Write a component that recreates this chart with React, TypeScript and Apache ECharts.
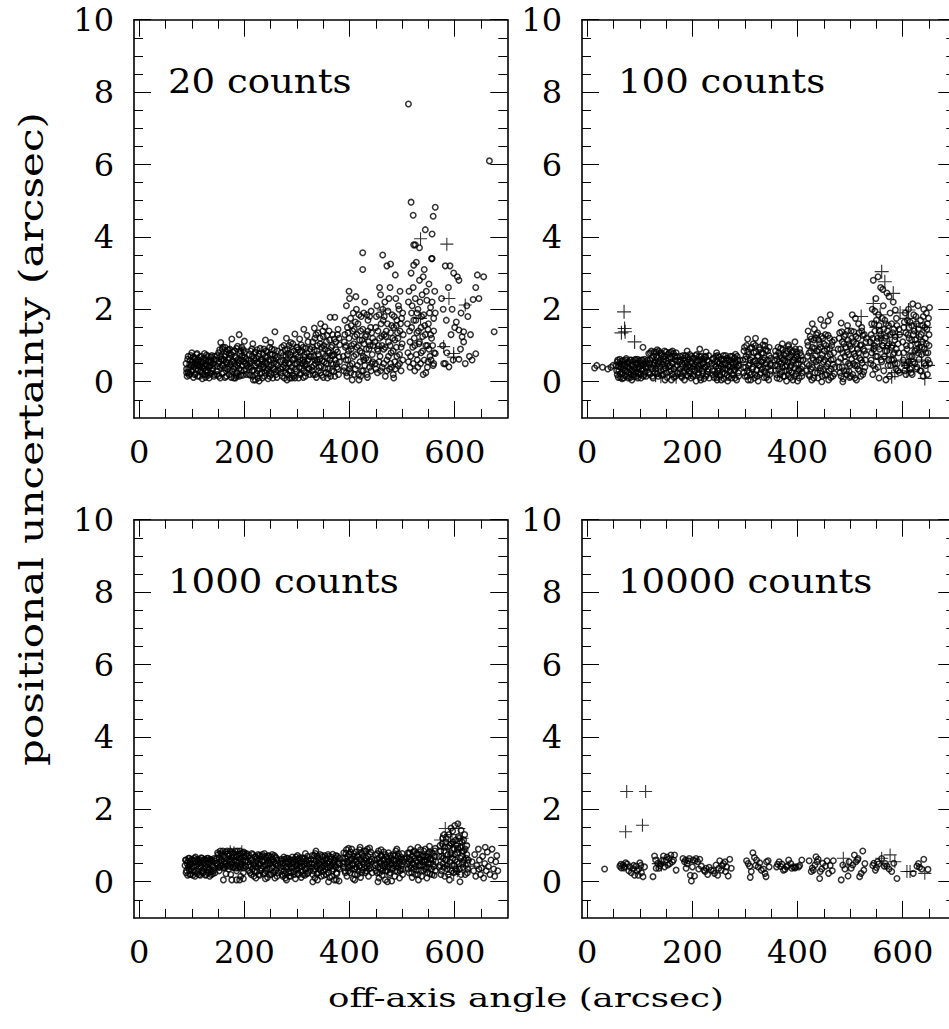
import React, { useEffect, useRef } from "react";
import * as echarts from "echarts";

const PANEL_LABELS = ["20 counts", "100 counts", "1000 counts", "10000 counts"];
const X_MAJOR = [0, 200, 400, 600];
const X_MINOR = [50, 100, 150, 250, 300, 350, 450, 500, 550, 650];
const Y_MAJOR = [0, 2, 4, 6, 8, 10];
const Y_MINOR = [-0.5, 0.5, 1, 1.5, 2.5, 3, 3.5, 4.5, 5, 5.5, 6.5, 7, 7.5, 8.5, 9, 9.5];
const X_TITLE = "off-axis angle (arcsec)";
const Y_TITLE = "positional uncertainty (arcsec)";

// ---- 20 counts ----
const tlCircles = [
  [90,.35],[92,.62],[95,.18],[96,.48],[98,.72],[100,.28],[101,.55],[103,.12],[104,.41],[106,.66],[107,.22],[109,.5],[110,.78],[112,.33],[113,.6],[115,.15],[116,.44],[118,.7],[119,.26],[121,.53],[122,.38],[124,.64],[125,.19],[127,.47],[128,.74],[130,.3],[131,.57],[133,.1],[134,.42],[136,.68],[137,.24],[139,.51],[140,.36],[142,.62],[143,.2],[97,.4],[111,.45],[126,.3],[135,.55],[108,.58],[120,.08],[129,.45],[93,.25],[117,.56],
  [147,.3],[148,.72],[150,.5],[151,.15],[153,.88],[154,.4],[156,.62],[157,.22],[159,.95],[160,.45],[162,.7],[163,.12],[165,.55],[166,.82],[168,.35],[169,.6],[171,.2],[172,.9],[174,.48],[175,.75],[177,.28],[178,.58],[180,.1],[181,.85],[183,.42],[184,.66],[186,.25],[187,.98],[189,.52],[190,.36],[192,.78],[193,.18],[195,.6],[196,.44],[198,.88],[199,.3],[201,.68],[202,.5],[204,.2],[155,1.08],[176,1.18],[190,1.3],[200,1.12],[163,.95],[185,.15],
  [208,.4],[209,.75],[211,.18],[212,.58],[214,.9],[215,.3],[217,.05],[218,.65],[220,.45],[221,.82],[223,.22],[224,.52],[226,.1],[227,.7],[229,.36],[230,.92],[232,.6],[233,.25],[235,.48],[236,.78],[238,.15],[239,.55],[241,.85],[242,.32],[244,.68],[245,.08],[247,.42],[248,.95],[250,.6],[251,.2],[253,.75],[254,.38],[256,.52],[257,.88],[259,.28],[260,.64],[262,.12],[263,.46],[216,1.05],[240,1.15],[258,1.38],[250,1.08],[228,.02],
  [269,.35],[270,.8],[272,.15],[273,.6],[275,1.0],[276,.45],[278,.25],[279,.7],[281,.05],[282,.9],[284,.52],[285,.3],[287,.75],[288,1.08],[290,.4],[291,.18],[293,.62],[294,.85],[296,.1],[297,.48],[299,.95],[300,.28],[302,.68],[303,.55],[305,.2],[306,.82],[308,1.02],[309,.38],[311,.6],[312,.12],[314,.75],[315,.45],[317,.92],[318,.25],[320,.58],[321,1.1],[323,.35],[324,.7],[280,1.2],[296,1.32],[313,1.45],[319,1.28],[305,1.18],[286,.1],
  [328,.4],[329,.95],[331,.2],[332,.7],[334,1.2],[335,.5],[337,.12],[338,.85],[340,1.35],[341,.3],[343,.62],[344,1.05],[346,.42],[347,.18],[349,.78],[350,1.25],[352,.55],[353,.9],[355,.25],[356,1.1],[358,.65],[359,.35],[361,1.4],[362,.8],[364,.15],[365,.5],[367,1.0],[368,.72],[370,.28],[371,1.18],[373,.6],[374,.88],[376,.4],[377,1.3],[379,.2],[380,.68],[381,1.02],[333,1.48],[345,1.6],[363,1.78],[372,1.78],[353,1.52],[378,1.45],[339,.55],
  [389,.3],[390,1.1],[391,1.7],[393,.6],[394,2.1],[395,.15],[397,1.35],[398,.85],[400,2.3],[401,.45],[403,1.55],[404,1.0],[405,.05],[407,1.9],[408,.7],[410,1.25],[411,.35],[413,2.0],[414,.95],[416,1.6],[417,.2],[419,1.15],[420,.55],[422,1.8],[423,.8],[425,1.45],[426,.3],[428,1.05],[429,2.2],[431,.65],[432,1.3],[434,.12],[435,1.7],[437,.9],[438,.4],[440,1.5],[441,1.95],[443,.75],[444,1.2],[392,.95],[402,.25],[409,1.45],[418,.05],[427,.6],[436,1.1],[442,.5],[399,2.5],[412,2.35],[425,3.56],[425,3.1],[396,.75],[433,1.85],[421,.15],
  [449,.5],[450,1.5],[452,2.1],[453,.25],[455,1.0],[456,1.85],[458,.7],[459,2.4],[461,1.25],[462,.4],[464,1.7],[465,.9],[467,2.2],[468,.15],[470,1.4],[471,.6],[473,1.95],[474,1.1],[476,.35],[477,2.6],[479,.8],[480,1.55],[482,1.2],[483,.2],[485,1.8],[486,.55],[488,2.3],[489,.95],[491,1.35],[492,.45],[494,2.0],[495,.75],[497,1.6],[498,.3],[500,1.05],[501,1.9],[454,.85],[466,1.3],[478,.5],[490,1.7],[463,3.5],[471,3.2],[478,3.25],[487,2.95],[457,2.6],[496,2.5],[484,.1],
  [511,.8],[512,2.2],[514,1.4],[515,.4],[517,3.0],[518,1.9],[520,.95],[521,2.6],[523,1.2],[524,.3],[526,1.7],[527,3.3],[529,.6],[530,2.0],[532,1.05],[533,2.8],[535,.5],[536,1.5],[538,2.4],[539,.85],[541,1.85],[542,3.1],[544,1.3],[545,.25],[547,2.25],[548,1.0],[550,1.6],[551,2.7],[553,.7],[554,2.05],[556,1.2],[557,3.4],[559,.45],[560,1.75],[562,2.5],[522,3.78],[525,3.78],[522,3.22],[556,3.4],[512,7.67],[517,4.96],[521,4.6],[563,4.82],[559,4.57],[544,4.2],[557,4.08],[533,3.7],[540,.2],[528,1.35],[549,.55],
  [575,2.3],[577,1.0],[579,.5],[582,3.2],[584,1.7],[585,.8],[588,2.6],[589,.41],[591,3.2],[593,1.3],[595,2.0],[597,.6],[600,1.5],[603,1.65],[605,2.9],[608,2.8],[608,1.43],[608,.62],[611,.9],[614,1.24],[617,1.38],[617,1.1],[620,.5],[623,2.1],[625,1.8],[628,.7],[630,1.3],[635,2.27],[640,2.6],[643,2.95],[640,.77],[582,.5],[560,.5],[563,.78],[578,2.0],[598,3.0],[612,1.9],[646,2.3],[655,2.9],[666,6.1],[675,1.38],[633,.6]
];
const tlExtra = [
  [89,.5],[91,.15],[93,.7],[94,.38],[96,.22],[97,.6],[99,.45],[100,.8],[102,.32],[103,.68],[105,.2],[106,.5],[108,.35],[109,.75],[111,.15],[112,.55],[114,.42],[115,.68],[117,.3],[118,.5],[120,.62],[121,.2],[123,.45],[124,.78],[126,.12],[127,.6],[129,.25],[130,.7],[132,.4],[133,.58],[135,.22],[136,.45],[138,.72],[139,.3],[141,.5],[142,.15],[143,.7],[90,.25],[105,.62],[119,.4],[131,.18],[137,.55],
  [146,.6],[148,.2],[149,.42],[151,.8],[152,.55],[154,.1],[155,.7],[157,.45],[158,.9],[160,.25],[161,.6],[163,.38],[164,.75],[166,.15],[167,.5],[169,.88],[170,.4],[172,.65],[173,.3],[175,.12],[176,.55],[178,.82],[179,.35],[181,.5],[182,.7],[184,.2],[185,.92],[187,.45],[188,.62],[190,.15],[191,.58],[193,.85],[194,.32],[196,.72],[197,.18],[199,.55],[200,.8],[202,.35],[203,.62],[205,.45],[158,.62],[171,.78],[183,.1],[195,.95],
  [207,.6],[209,.2],[210,.5],[212,.85],[213,.4],[215,.7],[216,.15],[218,.32],[219,.58],[221,.05],[222,.65],[224,.88],[225,.3],[227,.5],[228,.78],[230,.22],[231,.45],[233,.62],[234,.1],[236,.4],[237,.9],[239,.25],[240,.68],[242,.5],[243,.82],[245,.35],[246,.6],[248,.15],[249,.75],[251,.45],[252,.9],[254,.1],[255,.62],[257,.35],[258,.72],[260,.2],[261,.5],[263,.85],[264,.3],[220,.8],[234,.55],[247,.25],[262,.68],
  [268,.55],[270,.25],[271,.95],[273,.4],[274,.72],[276,.1],[277,.88],[279,.38],[280,.6],[282,.2],[283,.78],[285,1.0],[286,.5],[288,.3],[289,.82],[291,.6],[292,1.05],[294,.15],[295,.65],[297,.35],[298,.75],[300,.5],[301,.95],[303,.1],[304,.4],[306,.6],[307,.22],[309,.85],[310,.5],[312,.95],[313,.3],[315,.68],[316,.15],[318,.48],[319,.8],[321,.38],[322,.62],[324,.2],[325,.9],[278,.52],[290,.1],[302,.88],[314,.55],
  [327,.7],[329,.3],[330,1.1],[332,.45],[333,.88],[335,.2],[336,1.3],[338,.6],[339,1.0],[341,.75],[342,.4],[344,1.2],[345,.25],[347,.95],[348,.58],[350,.12],[351,1.0],[353,.38],[354,.7],[356,.5],[357,1.28],[359,.85],[360,.22],[362,1.15],[363,.6],[365,.95],[366,.3],[368,1.3],[369,.48],[371,.75],[372,.15],[374,1.1],[375,.5],[377,.82],[378,.35],[380,1.2],[381,.55],[334,.6],[349,1.4],[358,.1],[366,.72],
  [388,.7],[390,.4],[391,1.3],[393,1.0],[394,.25],[396,1.5],[397,.6],[399,1.2],[400,.35],[402,1.75],[403,.9],[405,.5],[406,1.4],[408,1.05],[409,.2],[411,1.65],[412,.75],[414,1.3],[415,.45],[417,1.0],[418,1.85],[420,.85],[421,1.4],[423,.3],[424,1.15],[426,.7],[427,1.9],[429,.45],[430,1.25],[432,.9],[433,.2],[435,1.4],[436,.6],[438,1.8],[439,1.0],[441,.3],[442,1.35],[444,.55],[445,1.0],
  [448,1.1],[450,.35],[451,1.8],[453,.9],[454,1.4],[456,.55],[457,1.2],[459,.3],[460,1.6],[462,1.0],[463,2.0],[465,.5],[466,1.8],[468,.95],[469,1.25],[471,.3],[472,1.6],[474,.7],[475,2.3],[477,1.0],[478,1.35],[480,.4],[481,1.85],[483,.85],[484,1.5],[486,1.15],[487,.35],[489,1.55],[490,.7],[492,1.2],[493,2.1],[495,.5],[496,1.4],[498,.95],[499,1.75],[501,.6],[502,1.3],
  [510,1.6],[512,.55],[513,2.5],[515,1.1],[516,.7],[518,1.5],[519,2.1],[521,.5],[522,1.7],[524,1.0],[525,2.3],[527,.75],[528,1.9],[530,.4],[531,1.4],[533,1.1],[534,2.2],[536,.8],[537,1.8],[539,1.25],[540,2.9],[542,.6],[543,1.55],[545,1.0],[546,2.5],[548,.4],[549,1.45],[551,.9],[552,1.9],[554,1.3],[555,.6],[557,2.2],[558,1.0],[560,1.4],[561,.8],[563,1.9]
];
const tlPlus = [[535,3.95],[585,3.8],[589,2.3],[620,2.12],[535,1.75],[464,1.98],[579,.97],[598,.78],[598,.68],[172,.93],[195,.9]];

// ---- 100 counts ----
const trCircles = [
  [14,.38],[18,.45],[29,.4],[39,.35],[45,.4],[49,.45],[106,.95],
  [56,.3],[57,.55],[59,.12],[60,.42],[62,.62],[63,.22],[65,.48],[66,.08],[68,.35],[69,.58],[71,.18],[72,.45],[74,.64],[75,.28],[77,.52],[78,.1],[80,.38],[81,.6],[83,.2],[84,.46],[86,.32],[87,.56],[89,.14],[90,.4],[92,.62],[93,.25],[95,.5],[96,.1],[98,.36],[99,.58],[101,.2],[102,.44],[104,.3],[105,.6],[107,.15],[108,.48],[110,.26],[111,.55],[112,.38],[67,.45],[85,.05],[97,.25],
  [116,.4],[117,.78],[119,.2],[120,.6],[122,.85],[123,.35],[125,.1],[126,.7],[128,.5],[129,.25],[131,.82],[132,.45],[134,.65],[135,.15],[137,.55],[138,.8],[140,.3],[141,.72],[143,.48],[144,.2],[146,.62],[147,.85],[149,.38],[150,.58],[152,.12],[153,.75],[155,.42],[156,.28],[158,.68],[159,.82],[161,.52],[162,.22],[164,.78],[165,.35],[167,.6],[168,.15],[170,.7],[171,.45],[133,.88],[148,.05],[160,.05],[127,.52],
  [176,.35],[177,.7],[179,.15],[180,.5],[182,.72],[183,.25],[185,.05],[186,.6],[188,.4],[189,.18],[191,.68],[192,.45],[194,.3],[195,.75],[197,.1],[198,.55],[200,.35],[201,.65],[203,.2],[204,.48],[206,.72],[207,.02],[209,.38],[210,.58],[212,.25],[213,.7],[215,.12],[216,.45],[218,.62],[219,.3],[221,.52],[222,.08],[224,.68],[225,.4],[227,.2],[228,.6],[230,.35],[231,.72],[214,.9],[190,.85],[226,.82],
  [238,.3],[239,.62],[241,.12],[242,.48],[244,.7],[245,.22],[247,.05],[248,.55],[250,.38],[251,.68],[253,.15],[254,.42],[256,.6],[257,.25],[259,.72],[260,.08],[262,.5],[263,.35],[265,.65],[266,.18],[268,.45],[269,.58],[271,.28],[272,.7],[274,.1],[275,.52],[277,.4],[278,.2],[280,.66],[281,.32],[283,.5],[284,.05],[286,.6],[287,.25],[289,.45],[246,.8],[267,.02],[282,.76],
  [297,.4],[298,.85],[300,.15],[301,.62],[303,1.0],[304,.3],[306,.05],[307,.75],[309,.5],[310,.92],[312,.2],[313,.68],[315,.4],[316,1.05],[318,.1],[319,.58],[321,.82],[322,.32],[324,.7],[325,.02],[327,.95],[328,.45],[330,.25],[331,.78],[333,.55],[334,1.02],[336,.12],[337,.65],[339,.38],[340,.88],[342,.2],[343,.6],[345,.05],[346,.72],[348,.48],[349,.3],[305,1.18],[320,1.2],[338,1.12],
  [357,.45],[358,.85],[360,.2],[361,.62],[363,.95],[364,.35],[366,.08],[367,.72],[369,.5],[370,.28],[372,.88],[373,.6],[375,.15],[376,.42],[378,.78],[379,.02],[381,.55],[382,.98],[384,.3],[385,.68],[387,.12],[388,.45],[390,.82],[391,.05],[393,.6],[394,.38],[396,.9],[397,.22],[399,.7],[400,.02],[402,.5],[403,.32],[405,.8],[406,.6],[408,.15],[409,.42],[371,1.05],[395,1.1],[383,1.02],
  [418,.5],[419,1.1],[421,.2],[422,.8],[424,1.25],[425,.35],[427,.05],[428,.95],[430,.6],[431,1.15],[433,.25],[434,.72],[436,1.3],[437,.45],[439,.1],[440,.88],[442,1.05],[443,.38],[445,.65],[446,0],[448,1.2],[449,.55],[451,.85],[452,.18],[454,1.0],[455,.42],[457,.7],[458,1.28],[460,.3],[461,.92],[463,.12],[464,.6],[466,1.1],[467,.48],[469,.8],[470,.22],[420,1.4],[428,1.6],[432,1.45],[444,1.72],[450,1.55],[462,1.85],[458,1.68],[438,1.35],[447,.15],
  [478,.55],[479,1.2],[481,.25],[482,.9],[484,1.38],[485,.4],[487,.08],[488,1.05],[490,.7],[491,1.3],[493,.3],[494,.82],[496,1.15],[497,.5],[499,.12],[500,.98],[502,1.4],[503,.62],[505,.2],[506,1.1],[508,.78],[509,.45],[511,1.25],[512,.05],[514,.9],[515,.35],[517,1.35],[518,.65],[520,.15],[521,1.02],[523,.52],[524,1.28],[526,.28],[527,.85],[529,.6],[530,1.1],[483,1.62],[495,1.55],[510,1.75],[504,1.85],[522,1.5],[486,0],[516,1.6],[498,.28],
  [539,.5],[540,1.3],[542,2.0],[543,.2],[545,.9],[546,1.6],[548,.35],[549,2.3],[551,1.1],[552,.7],[554,1.85],[555,.1],[557,1.4],[558,2.6],[560,.55],[561,1.0],[563,2.1],[564,.3],[566,1.7],[567,.85],[569,1.25],[570,2.45],[572,.45],[573,1.55],[575,.15],[576,1.9],[578,.95],[579,.6],[581,1.35],[582,2.2],[584,.8],[585,1.15],[587,.35],[588,1.75],[590,.5],[591,1.05],[593,1.45],[594,.25],[544,2.8],[553,2.9],[562,2.55],[574,2.35],[547,1.95],[568,.05],[586,1.98],[559,1.2],[541,.8],[571,1.0],[583,.6],
  [601,.6],[602,1.5],[604,.3],[605,1.9],[607,1.0],[608,.45],[610,1.3],[611,2.0],[613,.7],[614,1.65],[616,.25],[617,1.15],[619,2.15],[620,.55],[622,1.4],[623,.85],[625,1.8],[626,.35],[628,1.05],[629,2.1],[631,.62],[632,1.25],[634,1.7],[635,.3],[637,.95],[638,1.55],[640,2.0],[641,.5],[643,1.2],[644,.8],[646,1.45],[647,.2],[649,1.75],[650,1.0],[651,2.05],[606,.2],[618,.2],[639,.15],[645,1.9],[612,1.5],[627,.9],[648,.6]
];
const trExtra = [
  [55,.45],[57,.2],[58,.6],[60,.3],[61,.5],[63,.12],[64,.4],[66,.58],[67,.25],[69,.1],[70,.48],[72,.3],[73,.6],[75,.15],[76,.42],[78,.55],[79,.25],[81,.35],[82,.12],[84,.6],[85,.3],[87,.45],[88,.2],[90,.6],[91,.35],[93,.5],[94,.15],[96,.62],[97,.42],[99,.22],[100,.5],[102,.1],[103,.6],[105,.35],[106,.48],[108,.2],[109,.62],[111,.42],[112,.15],[113,.5],
  [115,.6],[117,.25],[118,.5],[120,.8],[121,.4],[123,.65],[124,.15],[126,.45],[127,.82],[129,.6],[130,.35],[132,.7],[133,.22],[135,.5],[136,.85],[138,.4],[139,.6],[141,.18],[142,.78],[144,.55],[145,.35],[147,.7],[148,.45],[150,.82],[151,.25],[153,.5],[154,.65],[156,.8],[157,.45],[159,.3],[160,.65],[162,.85],[163,.5],[165,.12],[166,.7],[168,.42],[169,.8],[171,.25],[172,.58],
  [175,.55],[177,.25],[178,.6],[180,.12],[181,.42],[183,.65],[184,.3],[186,.5],[187,.72],[189,.35],[190,.55],[192,.15],[193,.62],[195,.4],[196,.22],[198,.7],[199,.5],[201,.15],[202,.42],[204,.65],[205,.3],[207,.55],[208,.75],[210,.2],[211,.45],[213,.35],[214,.6],[216,.05],[217,.7],[219,.5],[220,.22],[222,.62],[223,.4],[225,.7],[226,.15],[228,.45],[229,.28],[231,.55],[232,.1],
  [237,.5],[239,.2],[240,.65],[242,.3],[243,.55],[245,.42],[246,.12],[248,.72],[249,.3],[251,.5],[252,.2],[254,.62],[255,.05],[257,.48],[258,.35],[260,.62],[261,.22],[263,.72],[264,.5],[266,.35],[267,.6],[269,.12],[270,.42],[272,.3],[273,.6],[275,.2],[276,.7],[278,.5],[279,.32],[281,.1],[282,.55],[284,.4],[285,.7],[287,.45],[288,.15],[290,.6],
  [296,.6],[298,.25],[299,.95],[301,.4],[302,.7],[304,.15],[305,.82],[307,.45],[308,.25],[310,.6],[311,.05],[313,.95],[314,.35],[316,.55],[317,.8],[319,.2],[320,1.0],[322,.5],[323,.15],[325,.72],[326,.45],[328,.88],[329,.2],[331,.55],[332,.35],[334,.8],[335,.6],[337,.28],[338,1.0],[340,.5],[341,.12],[343,.85],[344,.4],[346,.95],[347,.2],[349,.65],[350,.45],
  [356,.6],[358,.3],[359,.72],[361,.1],[362,.45],[364,.8],[365,.55],[367,.2],[368,.92],[370,.65],[371,.4],[373,.15],[374,.75],[376,.58],[377,.3],[379,.85],[380,.45],[382,.2],[383,.65],[385,.9],[386,.4],[388,.72],[389,.25],[391,.55],[392,.85],[394,.15],[395,.65],[397,.48],[398,.82],[400,.3],[401,.62],[403,.1],[404,.9],[406,.35],[407,.72],[409,.25],[410,.6],
  [417,.3],[419,.7],[420,1.0],[422,.45],[423,.15],[425,.85],[426,1.18],[428,.4],[429,.65],[431,.1],[432,.92],[434,1.2],[435,.55],[437,.85],[438,.25],[440,1.15],[441,.6],[443,.95],[444,.3],[446,1.25],[447,.75],[449,.35],[450,1.05],[452,.6],[453,1.3],[455,.2],[456,.9],[458,.5],[459,.05],[461,1.2],[462,.75],[464,.35],[465,1.0],[467,.15],[468,.62],[470,1.15],[471,.4],
  [477,.9],[479,.4],[480,1.35],[482,.65],[483,.15],[485,1.1],[486,.8],[488,.3],[489,1.25],[491,.55],[492,.95],[494,.2],[495,1.4],[497,.75],[498,1.05],[500,.45],[501,.15],[503,1.2],[504,.9],[506,.5],[507,1.38],[509,.1],[510,.7],[512,1.05],[513,.45],[515,1.2],[516,.8],[518,.3],[519,1.0],[521,.6],[522,1.4],[524,.2],[525,.9],[527,1.3],[528,.4],[530,.75],[531,1.2],
  [538,1.1],[540,.6],[541,1.6],[543,1.2],[544,.45],[546,1.0],[547,1.4],[549,.7],[550,1.7],[552,1.2],[553,.4],[555,1.55],[556,.9],[558,1.3],[559,.6],[561,1.75],[562,1.0],[564,1.45],[565,.7],[567,1.2],[568,1.6],[570,.85],[571,1.4],[573,.6],[574,1.05],[576,1.3],[577,.45],[579,1.6],[580,1.0],[582,.75],[583,1.45],[585,.5],[586,1.25],[588,.9],[589,1.55],[591,.3],[592,.8],[594,1.3],
  [600,1.1],[602,.8],[603,1.65],[605,.45],[606,1.35],[608,.9],[609,1.7],[611,.55],[612,1.2],[614,.35],[615,1.0],[617,1.55],[618,.7],[620,1.3],[621,1.85],[623,.5],[624,1.15],[626,1.6],[627,.4],[629,.8],[630,1.45],[632,.95],[633,.3],[635,1.3],[636,.75],[638,1.1],[639,1.8],[641,.9],[642,1.5],[644,.45],[645,1.05],[647,1.6],[648,.8],[650,1.3],[651,.5]
];
const trPlus = [[70,1.93],[71,1.47],[72,1.38],[65,1.35],[90,1.1],[560,3.04],[566,2.76],[582,2.44],[544,2.16],[521,1.8],[557,1.85],[611,1.98],[608,1.75],[626,1.4],[642,1.5],[579,.14],[608,.3],[612,.45],[642,.09],[648,.45],[612,.55],[544,.9],[560,1.2],[575,1.0],[590,1.3],[630,1.1],[620,.8],[550,1.5],[598,.6],[636,.6],[130,.18],[140,.15],[169,.14],[570,.7],[585,.25],[625,1.6],[595,1.9],[540,1.0]];

// ---- 1000 counts ----
const blCircles = [
  [88,.6],[89,.25],[91,.5],[92,.18],[94,.65],[95,.32],[97,.55],[98,.2],[100,.62],[101,.4],[103,.28],[104,.58],[106,.15],[107,.68],[109,.45],[110,.22],[112,.6],[113,.35],[115,.52],[116,.18],[118,.66],[119,.3],[121,.56],[122,.25],[124,.62],[125,.42],[127,.2],[128,.58],[130,.33],[131,.65],[133,.5],[134,.15],[136,.6],[137,.28],[139,.55],[140,.22],[142,.64],[143,.38],[96,.45],[111,.5],[126,.5],[138,.45],
  [148,.5],[149,.8],[151,.4],[152,.65],[154,.85],[155,.45],[157,.58],[158,.75],[160,.38],[161,.7],[163,.52],[164,.82],[166,.42],[167,.62],[169,.78],[170,.35],[172,.55],[173,.85],[175,.48],[176,.68],[178,.4],[179,.8],[181,.6],[182,.45],[184,.72],[185,.55],[187,.85],[188,.38],[190,.65],[191,.78],[193,.5],[194,.42],[196,.7],[197,.6],[199,.82],[200,.45],[202,.58],[203,.72],[152,.3],[160,.05],[176,.05],[185,.05],[191,.05],[198,.08],[165,.22],[185,.3],[198,.25],[193,.15],[174,.2],
  [208,.45],[209,.72],[211,.25],[212,.6],[214,.78],[215,.35],[217,.5],[218,.15],[220,.68],[221,.42],[223,.58],[224,.28],[226,.75],[227,.48],[229,.18],[230,.62],[232,.38],[233,.7],[235,.55],[236,.22],[238,.78],[239,.45],[241,.3],[242,.65],[244,.12],[245,.52],[247,.7],[248,.35],[250,.6],[251,.2],[253,.75],[254,.42],[256,.55],[257,.28],[259,.68],[260,.48],[262,.15],[263,.6],[222,.1],[240,.08],[258,.1],
  [269,.4],[270,.62],[272,.2],[273,.5],[275,.68],[276,.3],[278,.1],[279,.55],[281,.42],[282,.65],[284,.25],[285,.48],[287,.6],[288,.15],[290,.38],[291,.68],[293,.52],[294,.28],[296,.62],[297,.08],[299,.45],[300,.35],[302,.58],[303,.2],[305,.66],[306,.42],[308,.12],[309,.55],[311,.3],[312,.64],[314,.48],[315,.18],[317,.58],[318,.36],[320,.7],[321,.25],[323,.5],[280,.05],[301,.72],[316,.78],
  [328,.5],[329,.72],[331,.3],[332,.6],[334,.1],[335,.78],[337,.42],[338,.22],[340,.65],[341,.5],[343,.35],[344,.75],[346,.15],[347,.55],[349,.68],[350,.28],[352,.45],[353,.72],[355,.6],[356,.2],[358,.52],[359,.38],[361,.7],[362,.12],[364,.62],[365,.45],[367,.3],[368,.76],[370,.55],[371,.05],[373,.65],[374,.4],[376,.22],[377,.7],[379,.5],[380,.02],[381,.35],[330,0],[339,.05],[360,0],[375,.05],[336,.85],
  [388,.5],[389,.8],[391,.3],[392,.65],[394,.88],[395,.15],[397,.55],[398,.4],[400,.75],[401,.25],[403,.62],[404,.9],[406,.45],[407,.08],[409,.7],[410,.35],[412,.82],[413,.55],[415,.2],[416,.68],[418,.42],[419,.88],[421,.12],[422,.6],[424,.78],[425,.32],[427,.5],[428,.85],[430,.25],[431,.65],[433,.4],[434,.9],[436,.15],[437,.58],[439,.75],[440,.38],[442,.62],[398,.92],[420,.95],[438,.93],[410,.05],
  [449,.45],[450,.75],[452,.25],[453,.62],[455,.85],[456,.1],[458,.52],[459,.35],[461,.72],[462,.18],[464,.6],[465,.82],[467,.4],[468,.05],[470,.68],[471,.3],[473,.55],[474,.8],[476,.2],[477,.48],[479,.65],[480,.02],[482,.38],[483,.75],[485,.58],[486,.15],[488,.85],[489,.45],[491,.28],[492,.7],[494,.5],[495,.1],[497,.62],[498,.35],[500,.78],[501,.2],[503,.55],[454,0],[472,0],[460,.88],[490,.9],
  [510,.5],[511,.8],[513,.25],[514,.62],[516,.9],[517,.38],[519,.12],[520,.7],[522,.48],[523,.85],[525,.2],[526,.58],[528,.75],[529,.32],[531,.05],[532,.65],[534,.45],[535,.88],[537,.15],[538,.55],[540,.72],[541,.3],[543,.6],[544,.9],[546,.4],[547,.1],[549,.68],[550,.5],[552,.82],[553,.22],[555,.62],[556,.35],[558,.78],[559,.48],[561,.18],[562,.7],[563,.92],[530,.95],[552,.98],
  [571,.4],[572,1.0],[574,.2],[575,.7],[577,1.2],[578,.5],[580,.85],[581,.15],[583,1.1],[584,.6],[586,.35],[587,.95],[589,1.3],[590,.05],[592,.75],[593,1.05],[595,.45],[596,1.4],[598,.25],[599,.9],[601,.6],[602,1.15],[604,.3],[605,.8],[607,1.25],[608,.5],[610,0],[611,.95],[613,.7],[614,1.1],[616,.4],[617,.85],[619,1.3],[620,.2],[622,.65],[623,1.0],[625,.35],[600,1.55],[593,1.48],[612,1.42],[580,1.3],[606,1.6],
  [633,.55],[636,.3],[638,.75],[640,.15],[642,.45],[645,.9],[647,.6],[649,.2],[651,.38],[653,.7],[655,.1],[657,.5],[660,.3],[662,.82],[664,.42],[667,.2],[669,.6],[671,.9],[674,.35],[676,.15],[678,.55],[680,.72],[682,.3],[658,.95],[646,.35]
];
const blExtra = [
  [87,.45],[89,.6],[90,.3],[92,.55],[93,.4],[95,.65],[96,.2],[98,.5],[99,.35],[101,.6],[102,.18],[104,.42],[105,.65],[107,.3],[108,.55],[110,.62],[111,.28],[113,.55],[114,.2],[116,.6],[117,.42],[119,.65],[120,.25],[122,.5],[123,.35],[125,.6],[126,.18],[128,.4],[129,.65],[131,.25],[132,.55],[134,.35],[135,.62],[137,.2],[138,.6],[140,.42],[141,.3],[143,.58],[144,.25],
  [147,.65],[149,.45],[150,.75],[152,.55],[153,.4],[155,.78],[156,.6],[158,.45],[159,.85],[161,.55],[162,.4],[164,.68],[165,.5],[167,.85],[168,.45],[170,.72],[171,.6],[173,.42],[174,.62],[176,.82],[177,.52],[179,.4],[180,.7],[182,.85],[183,.38],[185,.68],[186,.45],[188,.75],[189,.55],[191,.4],[192,.85],[194,.62],[195,.48],[197,.8],[198,.38],[200,.68],[201,.55],[203,.42],[204,.78],
  [207,.55],[209,.3],[210,.65],[212,.42],[213,.2],[215,.6],[216,.75],[218,.45],[219,.28],[221,.7],[222,.5],[224,.65],[225,.4],[227,.2],[228,.72],[230,.48],[231,.3],[233,.58],[234,.75],[236,.42],[237,.6],[239,.25],[240,.7],[242,.48],[243,.35],[245,.72],[246,.58],[248,.2],[249,.5],[251,.68],[252,.38],[254,.6],[255,.25],[257,.72],[258,.5],[260,.32],[261,.65],[263,.45],[264,.25],
  [268,.5],[270,.3],[271,.58],[273,.15],[274,.42],[276,.62],[277,.22],[279,.4],[280,.65],[282,.35],[283,.55],[285,.15],[286,.62],[288,.42],[289,.25],[291,.5],[292,.6],[294,.4],[295,.2],[297,.55],[298,.68],[300,.45],[301,.22],[303,.62],[304,.38],[306,.52],[307,.28],[309,.66],[310,.42],[312,.2],[313,.55],[315,.65],[316,.35],[318,.5],[319,.22],[321,.6],[322,.42],[324,.3],
  [327,.62],[329,.4],[330,.2],[332,.5],[333,.72],[335,.35],[336,.58],[338,.45],[339,.7],[341,.25],[342,.6],[344,.48],[345,.3],[347,.72],[348,.4],[350,.58],[351,.18],[353,.5],[354,.35],[356,.65],[357,.42],[359,.75],[360,.25],[362,.55],[363,.4],[365,.68],[366,.15],[368,.5],[369,.35],[371,.6],[372,.45],[374,.72],[375,.25],[377,.55],[378,.38],[380,.65],[381,.48],
  [387,.65],[389,.4],[390,.55],[392,.25],[393,.78],[395,.5],[396,.7],[398,.3],[399,.6],[401,.45],[402,.82],[404,.35],[405,.62],[407,.5],[408,.78],[410,.2],[411,.6],[413,.4],[414,.72],[416,.5],[417,.3],[419,.62],[420,.45],[422,.8],[423,.25],[425,.55],[426,.7],[428,.4],[429,.6],[431,.85],[432,.3],[434,.5],[435,.7],[437,.35],[438,.45],[440,.82],[441,.55],[443,.25],
  [448,.6],[450,.3],[451,.5],[453,.78],[454,.4],[456,.65],[457,.25],[459,.55],[460,.7],[462,.45],[463,.3],[465,.62],[466,.5],[468,.75],[469,.3],[471,.48],[472,.65],[474,.4],[475,.58],[477,.25],[478,.72],[480,.5],[481,.35],[483,.6],[484,.45],[486,.72],[487,.3],[489,.6],[490,.5],[492,.4],[493,.78],[495,.55],[496,.3],[498,.68],[499,.45],[501,.6],[502,.35],[504,.65],
  [509,.65],[511,.35],[512,.55],[514,.8],[515,.45],[517,.6],[518,.25],[520,.5],[521,.82],[523,.35],[524,.65],[526,.42],[527,.78],[529,.55],[530,.2],[532,.45],[533,.75],[535,.62],[536,.3],[538,.7],[539,.45],[541,.85],[542,.55],[544,.35],[545,.7],[547,.6],[548,.25],[550,.78],[551,.4],[553,.62],[554,.5],[556,.8],[557,.2],[559,.6],[560,.42],[562,.85],[563,.3],[564,.55],
  [570,.7],[572,.45],[573,.85],[575,.3],[576,1.05],[578,.65],[579,.4],[581,.95],[582,.6],[584,1.2],[585,.45],[587,.75],[588,.2],[590,1.0],[591,.55],[593,.8],[594,.3],[596,.65],[597,1.1],[599,.45],[600,.75],[602,.35],[603,1.0],[605,.55],[606,.9],[608,1.2],[609,.35],[611,.65],[612,.2],[614,.85],[615,.5],[617,1.15],[618,.6],[620,.9],[621,.45],[623,.75],[624,.25],[626,.6]
];
const blPlus = [[582,1.47],[608,1.47],[573,1.15],[592,1.3],[614,1.2],[611,.88],[586,.43],[629,.43],[598,.2],[509,.69],[173,.83],[195,.83],[600,1.0],[590,.7],[620,.6],[578,.9],[605,.3],[595,1.1],[615,1.05],[180,.8]];

// ---- 10000 counts ----
const brCircles = [
  [33,.35],
  [62,.43],[68,.46],[73,.52],[76,.49],[81,.41],[84,.25],[90,.18],[93,.43],[97,.18],[100,.52],[103,.25],[106,.14],[109,.41],[65,.38],[79,.3],[87,.36],[95,.3],[102,.45],[71,.42],
  [125,.14],[128,.71],[131,.37],[134,.51],[140,.49],[145,.71],[150,.6],[153,.46],[156,.64],[159,.74],[162,.55],[166,.74],[169,.32],[136,.37],[147,.41],[157,.5],[143,.6],
  [182,.64],[187,.6],[190,.5],[194,.64],[196,.18],[198,.02],[201,.6],[204,.16],[207,.64],[210,.55],[214,.62],[217,.43],[188,.37],[200,.41],
  [222,.32],[226,.37],[229,.2],[242,.23],[245,.46],[250,.37],[255,.32],[259,.5],[265,.41],[268,.16],[271,.62],[274,.37],[263,.28],[252,.58],[248,.18],[236,.32],
  [303,.58],[309,.43],[310,.12],[315,.8],[318,.67],[322,.6],[325,.41],[328,.52],[338,.23],[340,.14],[341,.55],[346,.41],[312,.28],[331,.32],
  [360,.41],[365,.55],[370,.49],[373,.32],[379,.41],[383,.6],[387,.5],[392,.41],[397,.41],[402,.41],[408,.6],[376,.34],[389,.37],
  [422,.58],[426,.28],[430,.32],[435,.69],[439,.62],[443,.28],[442,.09],[448,.51],[453,.43],[456,.58],[459,.23],[466,.3],[468,.58],[433,.46],
  [483,.05],[486,.46],[496,.16],[502,.37],[505,.46],[508,.74],[515,.64],[518,.14],[521,.23],[524,.85],[526,.32],[511,.55],
  [545,.51],[548,.32],[554,.49],[560,.64],[565,.43],[570,.43],[579,.28],[583,.51],[589,.09],[550,.39],
  [627,.43],[632,.4],[640,.62],[648,.34],[620,.23]
];
const brExtra = [
  [64,.48],[70,.38],[88,.45],[98,.35],[130,.6],[138,.44],[152,.68],[164,.6],[185,.55],[192,.58],[205,.58],[212,.35],[224,.28],[232,.4],[240,.3],[257,.45],[262,.55],[306,.5],[320,.45],[335,.35],[344,.58],[362,.48],[368,.42],[381,.45],[395,.38],[404,.45],[428,.38],[437,.55],[446,.35],[462,.45],[490,.35],[498,.55],[514,.6],[528,.5],[543,.45],[552,.55],[567,.5],[574,.35],[630,.5],[636,.35]
];
const brPlus = [[75,2.49],[111,2.49],[73,1.38],[105,1.56],[141,.46],[135,.5],[487,.65],[496,.46],[560,.65],[576,.74],[608,.28],[614,.28],[642,.23],[585,.55]];

const CIRCLES = [tlCircles.concat(tlExtra), trCircles.concat(trExtra), blCircles.concat(blExtra), brCircles.concat(brExtra)];
const PLUSES = [tlPlus, trPlus, blPlus, brPlus];

const FONT = "'DejaVu Serif', serif";
const GRID_POS = [
  { left: 134, top: 19.7 },
  { left: 582, top: 19.7 },
  { left: 134, top: 519.7 },
  { left: 582, top: 519.7 },
];
const GRID_W = 373.3;
const GRID_H = 398.2;
const LABEL_POS = [[168, 81], [618, 81], [168, 581], [618, 581]];
const PLUS_SIZES = [13, 14, 13, 13];
const PLUS_PATH = "path://M0,5.5H12V6.5H0Z M5.5,0H6.5V12H5.5Z";

export default function App() {
  const ref = useRef<HTMLDivElement>(null);
  useEffect(() => {
    if (!ref.current) return;
    const chart = echarts.init(ref.current, null, { renderer: "svg" });
    const lineStyle = { color: "#000", width: 1 };
    const axisLine = { show: true, onZero: false, lineStyle: { color: "#000", width: 1.6 } };
    const noLine = { show: false, onZero: false };
    const xAxes: any[] = [];
    const yAxes: any[] = [];
    GRID_POS.forEach((_, i) => {
      const xb = { type: "value", gridIndex: i, min: -10, max: 700, splitLine: { show: false } };
      const yb = { type: "value", gridIndex: i, min: -1, max: 10, splitLine: { show: false } };
      xAxes.push({ ...xb, position: "bottom", axisLine,
        axisTick: { show: true, inside: true, length: 17, customValues: X_MAJOR, lineStyle },
        axisLabel: { show: true, customValues: X_MAJOR, margin: 18, fontSize: 32, fontFamily: FONT, color: "#000" } });
      xAxes.push({ ...xb, position: "bottom", axisLine: noLine,
        axisTick: { show: true, inside: true, length: 9, customValues: X_MINOR, lineStyle }, axisLabel: { show: false } });
      xAxes.push({ ...xb, position: "top", axisLine,
        axisTick: { show: true, inside: true, length: 17, customValues: X_MAJOR, lineStyle }, axisLabel: { show: false } });
      xAxes.push({ ...xb, position: "top", axisLine: noLine,
        axisTick: { show: true, inside: true, length: 9, customValues: X_MINOR, lineStyle }, axisLabel: { show: false } });
      yAxes.push({ ...yb, position: "left", axisLine,
        axisTick: { show: true, inside: true, length: 17, customValues: Y_MAJOR, lineStyle },
        axisLabel: { show: true, customValues: Y_MAJOR, margin: 20, fontSize: 32, fontFamily: FONT, color: "#000" } });
      yAxes.push({ ...yb, position: "left", axisLine: noLine,
        axisTick: { show: true, inside: true, length: 9, customValues: Y_MINOR, lineStyle }, axisLabel: { show: false } });
      yAxes.push({ ...yb, position: "right", axisLine,
        axisTick: { show: true, inside: true, length: 17, customValues: Y_MAJOR, lineStyle }, axisLabel: { show: false } });
      yAxes.push({ ...yb, position: "right", axisLine: noLine,
        axisTick: { show: true, inside: true, length: 9, customValues: Y_MINOR, lineStyle }, axisLabel: { show: false } });
    });
    const series: any[] = [];
    CIRCLES.forEach((d, i) => {
      series.push({ type: "scatter", xAxisIndex: i * 4, yAxisIndex: i * 4, data: d, symbol: "circle", symbolSize: 5.5,
        itemStyle: { color: "rgba(255,255,255,0)", borderColor: "#000", borderWidth: 1.5 }, silent: true, z: 2 });
    });
    PLUSES.forEach((d, i) => {
      series.push({ type: "scatter", xAxisIndex: i * 4, yAxisIndex: i * 4, data: d, symbol: PLUS_PATH, symbolSize: PLUS_SIZES[i],
        itemStyle: { color: "#000", borderWidth: 0 }, silent: true, z: 3 });
    });
    const graphic: any[] = PANEL_LABELS.map((t, i) => ({
      type: "text", x: LABEL_POS[i][0], y: LABEL_POS[i][1], scaleX: 1.09, silent: true,
      style: { text: t, fontSize: 34, fontFamily: FONT, fill: "#000", textAlign: "left", textVerticalAlign: "middle", align: "left", verticalAlign: "middle" },
    }));
    graphic.push({
      type: "text", x: 526, y: 998, scaleX: 1.37, silent: true,
      style: { text: X_TITLE, fontSize: 26, fontFamily: FONT, fill: "#000", textAlign: "center", textVerticalAlign: "middle", align: "center", verticalAlign: "middle" },
    });
    graphic.push({
      type: "text", x: 31, y: 439, rotation: Math.PI / 2, scaleX: 1.24, silent: true,
      style: { text: Y_TITLE, fontSize: 34, fontFamily: FONT, fill: "#000", textAlign: "center", textVerticalAlign: "middle", align: "center", verticalAlign: "middle" },
    });
    chart.setOption({
      animation: false,
      backgroundColor: "#fff",
      grid: GRID_POS.map((g) => ({ left: g.left, top: g.top, width: GRID_W, height: GRID_H, containLabel: false, outerBoundsMode: "none" })),
      xAxis: xAxes,
      yAxis: yAxes,
      series,
      graphic,
    });
    return () => chart.dispose();
  }, []);
  return <div ref={ref} style={{ position: "fixed", left: 0, top: 0, width: 949, height: 1029, background: "#fff" }} />;
}
